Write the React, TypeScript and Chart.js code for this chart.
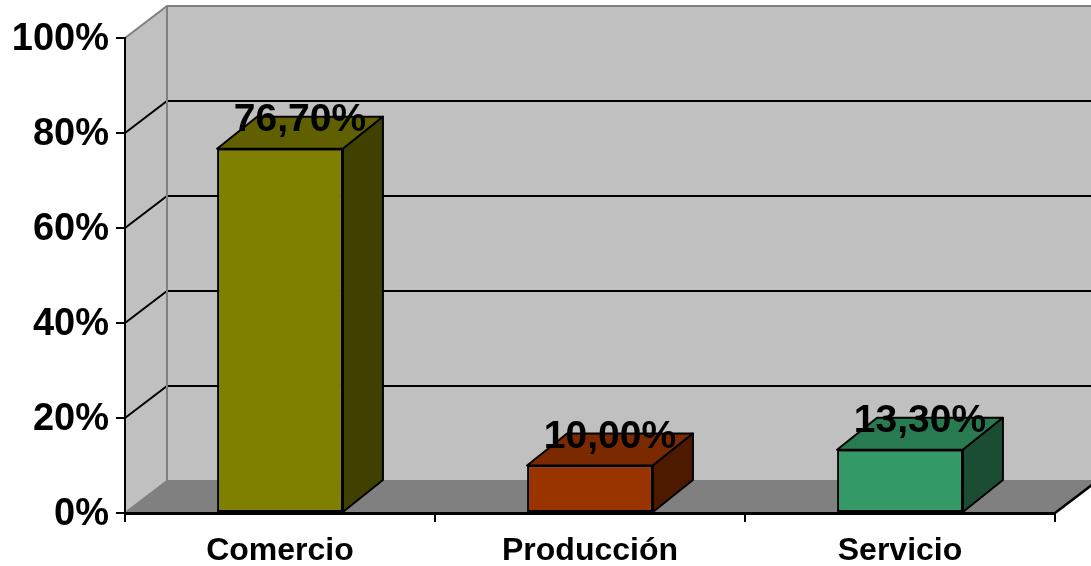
import React, { useEffect, useRef } from 'react';
import { Chart, registerables } from 'chart.js';

Chart.register(...registerables);

// ---- data ----
const categories = ['Comercio', 'Producción', 'Servicio'];
const values = [76.7, 10.0, 13.3];
const yTicks = [0, 20, 40, 60, 80, 100];

// ---- style ----
const frontColors = ['#808000', '#993300', '#339966'];
const topColors = ['#606000', '#7a2900', '#287a51'];
const sideColors = ['#404000', '#4d1a00', '#1a4d33'];
const FONT = '"Liberation Sans", Arial, sans-serif';
const WALL_DX = 42;
const WALL_DY = -32;
const BAR_DX = 40;
const BAR_DY = -32;

function poly(ctx: CanvasRenderingContext2D, pts: number[][]) {
  ctx.beginPath();
  ctx.moveTo(pts[0][0], pts[0][1]);
  for (let i = 1; i < pts.length; i++) ctx.lineTo(pts[i][0], pts[i][1]);
  ctx.closePath();
}

const wallsPlugin = {
  id: 'walls3d',
  beforeDraw(chart: any) {
    const { ctx, chartArea: a, scales } = chart;
    const ys = scales.y;
    const L = a.left, R = a.right, T = a.top, B = a.bottom;
    const bx = L + WALL_DX;
    const br = R + WALL_DX;
    ctx.save();
    ctx.fillStyle = '#c0c0c0';
    poly(ctx, [[L, T], [bx, T + WALL_DY], [bx, B + WALL_DY], [L, B]]);
    ctx.fill();
    poly(ctx, [[bx, T + WALL_DY], [br, T + WALL_DY], [br, B + WALL_DY], [bx, B + WALL_DY]]);
    ctx.fill();
    ctx.fillStyle = '#808080';
    poly(ctx, [[L, B], [R, B], [br, B + WALL_DY], [bx, B + WALL_DY]]);
    ctx.fill();

    ctx.lineWidth = 2;
    for (const v of yTicks) {
      const py = ys.getPixelForValue(v);
      const edge = v === 0 || v === 100;
      ctx.strokeStyle = edge ? '#808080' : '#000000';
      ctx.beginPath();
      ctx.moveTo(L, py);
      ctx.lineTo(bx, py + WALL_DY);
      ctx.lineTo(br, py + WALL_DY);
      ctx.stroke();
    }
    ctx.strokeStyle = '#808080';
    ctx.beginPath();
    ctx.moveTo(bx, T + WALL_DY);
    ctx.lineTo(bx, B + WALL_DY);
    ctx.stroke();

    ctx.strokeStyle = '#000000';
    ctx.lineWidth = 2.5;
    ctx.beginPath();
    ctx.moveTo(R, B);
    ctx.lineTo(br, B + WALL_DY);
    ctx.stroke();
    ctx.restore();
  },
};

const barsPlugin = {
  id: 'bars3d',
  afterDatasetsDraw(chart: any) {
    const { ctx } = chart;
    const meta = chart.getDatasetMeta(0);
    ctx.save();
    ctx.lineWidth = 2;
    ctx.lineJoin = 'round';
    ctx.strokeStyle = '#000000';
    meta.data.forEach((bar: any, i: number) => {
      const p = bar.getProps(['x', 'y', 'base', 'width'], true);
      const l = p.x - p.width / 2;
      const r = p.x + p.width / 2;
      const t = Math.min(p.y, p.base);
      const b = Math.max(p.y, p.base);
      ctx.fillStyle = topColors[i];
      poly(ctx, [[l, t], [l + BAR_DX, t + BAR_DY], [r + BAR_DX, t + BAR_DY], [r, t]]);
      ctx.fill();
      ctx.stroke();
      ctx.fillStyle = sideColors[i];
      poly(ctx, [[r, t], [r + BAR_DX, t + BAR_DY], [r + BAR_DX, b + BAR_DY], [r, b]]);
      ctx.fill();
      ctx.stroke();
    });
    ctx.fillStyle = '#000000';
    ctx.font = 'bold 39px ' + FONT;
    ctx.textAlign = 'center';
    ctx.textBaseline = 'alphabetic';
    meta.data.forEach((bar: any, i: number) => {
      const p = bar.getProps(['x', 'y'], true);
      const label = values[i].toFixed(2).replace('.', ',') + '%';
      ctx.fillText(label, p.x + BAR_DX / 2, p.y + BAR_DY / 2 - 2);
    });
    ctx.restore();
  },
};

export default function App() {
  const ref = useRef<HTMLCanvasElement>(null);
  useEffect(() => {
    if (!ref.current) return;
    Chart.defaults.font.family = FONT;
    const chart = new Chart(ref.current, {
      type: 'bar',
      data: {
        labels: categories,
        datasets: [
          {
            data: values,
            backgroundColor: frontColors,
            borderColor: '#000000',
            borderWidth: 2,
            borderSkipped: false,
            barPercentage: 1,
            categoryPercentage: 0.406,
          },
        ],
      },
      options: {
        responsive: false,
        animation: false,
        events: [],
        layout: { padding: { top: 38, right: 36, left: 0, bottom: 0 } },
        plugins: { legend: { display: false }, tooltip: { enabled: false } },
        scales: {
          x: {
            afterFit: (s: any) => { s.height = 53; },
            grid: {
              offset: true,
              drawOnChartArea: false,
              drawTicks: true,
              tickLength: 9,
              color: '#000000',
              lineWidth: 2,
            },
            border: { display: true, color: '#000000', width: 3 },
            ticks: {
              color: '#000000',
              font: { size: 32, weight: 'bold', family: FONT },
              padding: 10,
              maxRotation: 0,
            },
          },
          y: {
            min: 0,
            max: 100,
            afterFit: (s: any) => { s.width = 125; },
            afterBuildTicks: (s: any) => { s.ticks = yTicks.map((v) => ({ value: v })); },
            grid: {
              drawOnChartArea: false,
              drawTicks: true,
              tickLength: 9,
              color: '#000000',
              lineWidth: 2,
            },
            border: { display: true, color: '#000000', width: 2 },
            ticks: {
              color: '#000000',
              font: { size: 38, weight: 'bold', family: FONT },
              padding: 7,
              labelOffset: 2,
              callback: (v: any) => v + '%',
            },
          },
        },
      },
      plugins: [wallsPlugin, barsPlugin],
    } as any);
    return () => chart.destroy();
  }, []);
  return (
    <div style={{ position: 'absolute', left: 0, top: 0, width: 1091, height: 566 }}>
      <canvas ref={ref} width={1091} height={566} style={{ display: 'block' }} />
    </div>
  );
}
